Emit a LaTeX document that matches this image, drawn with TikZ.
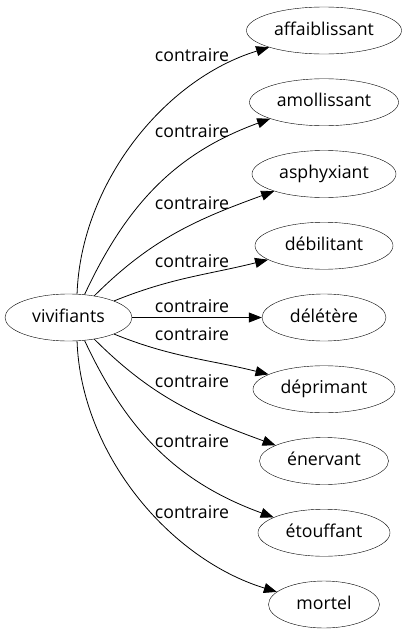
\documentclass[tikz,border=0pt]{standalone}
\usepackage{fontspec}
\setmainfont{Open Sans}
\usetikzlibrary{positioning, shapes.geometric, arrows.meta}

\begin{document}
\begin{tikzpicture}[x=1pt, y=1pt, node distance = 71.75pt,
		font=\fontsize{17.7}{20}\selectfont,
		mot/.style={draw, ellipse, inner sep=0pt, minimum height=47pt, minimum width=#1, text height=13pt, text depth=4pt},
		lien/.style={-{Triangle[length=13pt, width=10pt]}, line width=0.8pt},
		rel/.style={inner sep=0pt}]
		\useasboundingbox (0,0) rectangle (407,-635);
		
		\node [mot=127] (viv) at (68.5,-317.5) {vivifiants};
		\node [mot=155] (aff) at (324,-30.5) {affaiblissant};
		\node [mot=149, below of=aff] (amo) {amollissant};
		\node [mot=144, below of=amo] (asp) {asphyxiant};
		\node [mot=138, below of=asp] (deb) {débilitant};
		\node [mot=124, below of=deb] (del) {délétère};
		\node [mot=142, below of=del] (dep) {déprimant};
		\node [mot=129, below of=dep] (ene) {énervant};
		\node [mot=132, below of=ene] (eto) {étouffant};
		\node [mot=111, below of=eto] (mor) {mortel};
		
		\node [rel] (c1) at (192,-55) {contraire};
		\node [rel] (c2) at (192,-131) {contraire};
		\node [rel] (c3) at (192,-203) {contraire};
		\node [rel] (c4) at (192,-261) {contraire};
		\node [rel] (c5) at (192,-306) {contraire};
		\node [rel] (c6) at (192,-334) {contraire};
		\node [rel] (c7) at (192,-381) {contraire};
		\node [rel] (c8) at (192,-441) {contraire};
		\node [rel] (c9) at (192,-512) {contraire};
		
		\draw[lien]
		(viv.70) to[out=88, in=197, looseness=0.9] (aff.197);
		\draw[lien]
		(viv.55) to[out=65, in=200] (amo.197);
		\draw[lien]
		(viv.40) to[out=45, in=200] (asp.199);
		\draw[lien]
		(viv.20) to[out=22, in=194] (deb.194);
		\draw[lien]
		(viv) -- (del);
		\draw[lien]
		(viv.-20) to[out=-22, in=166] (dep.165);
		\draw[lien]
		(viv.-40) to[out=-45, in=160] (ene.162);
		\draw[lien]
		(viv.-55) to[out=-65, in=160] (eto.163);
		\draw[lien]
		(viv.-70) to[out=-88, in=163, looseness=0.9] (mor.165);
		
		\end{tikzpicture}
\end{document}
